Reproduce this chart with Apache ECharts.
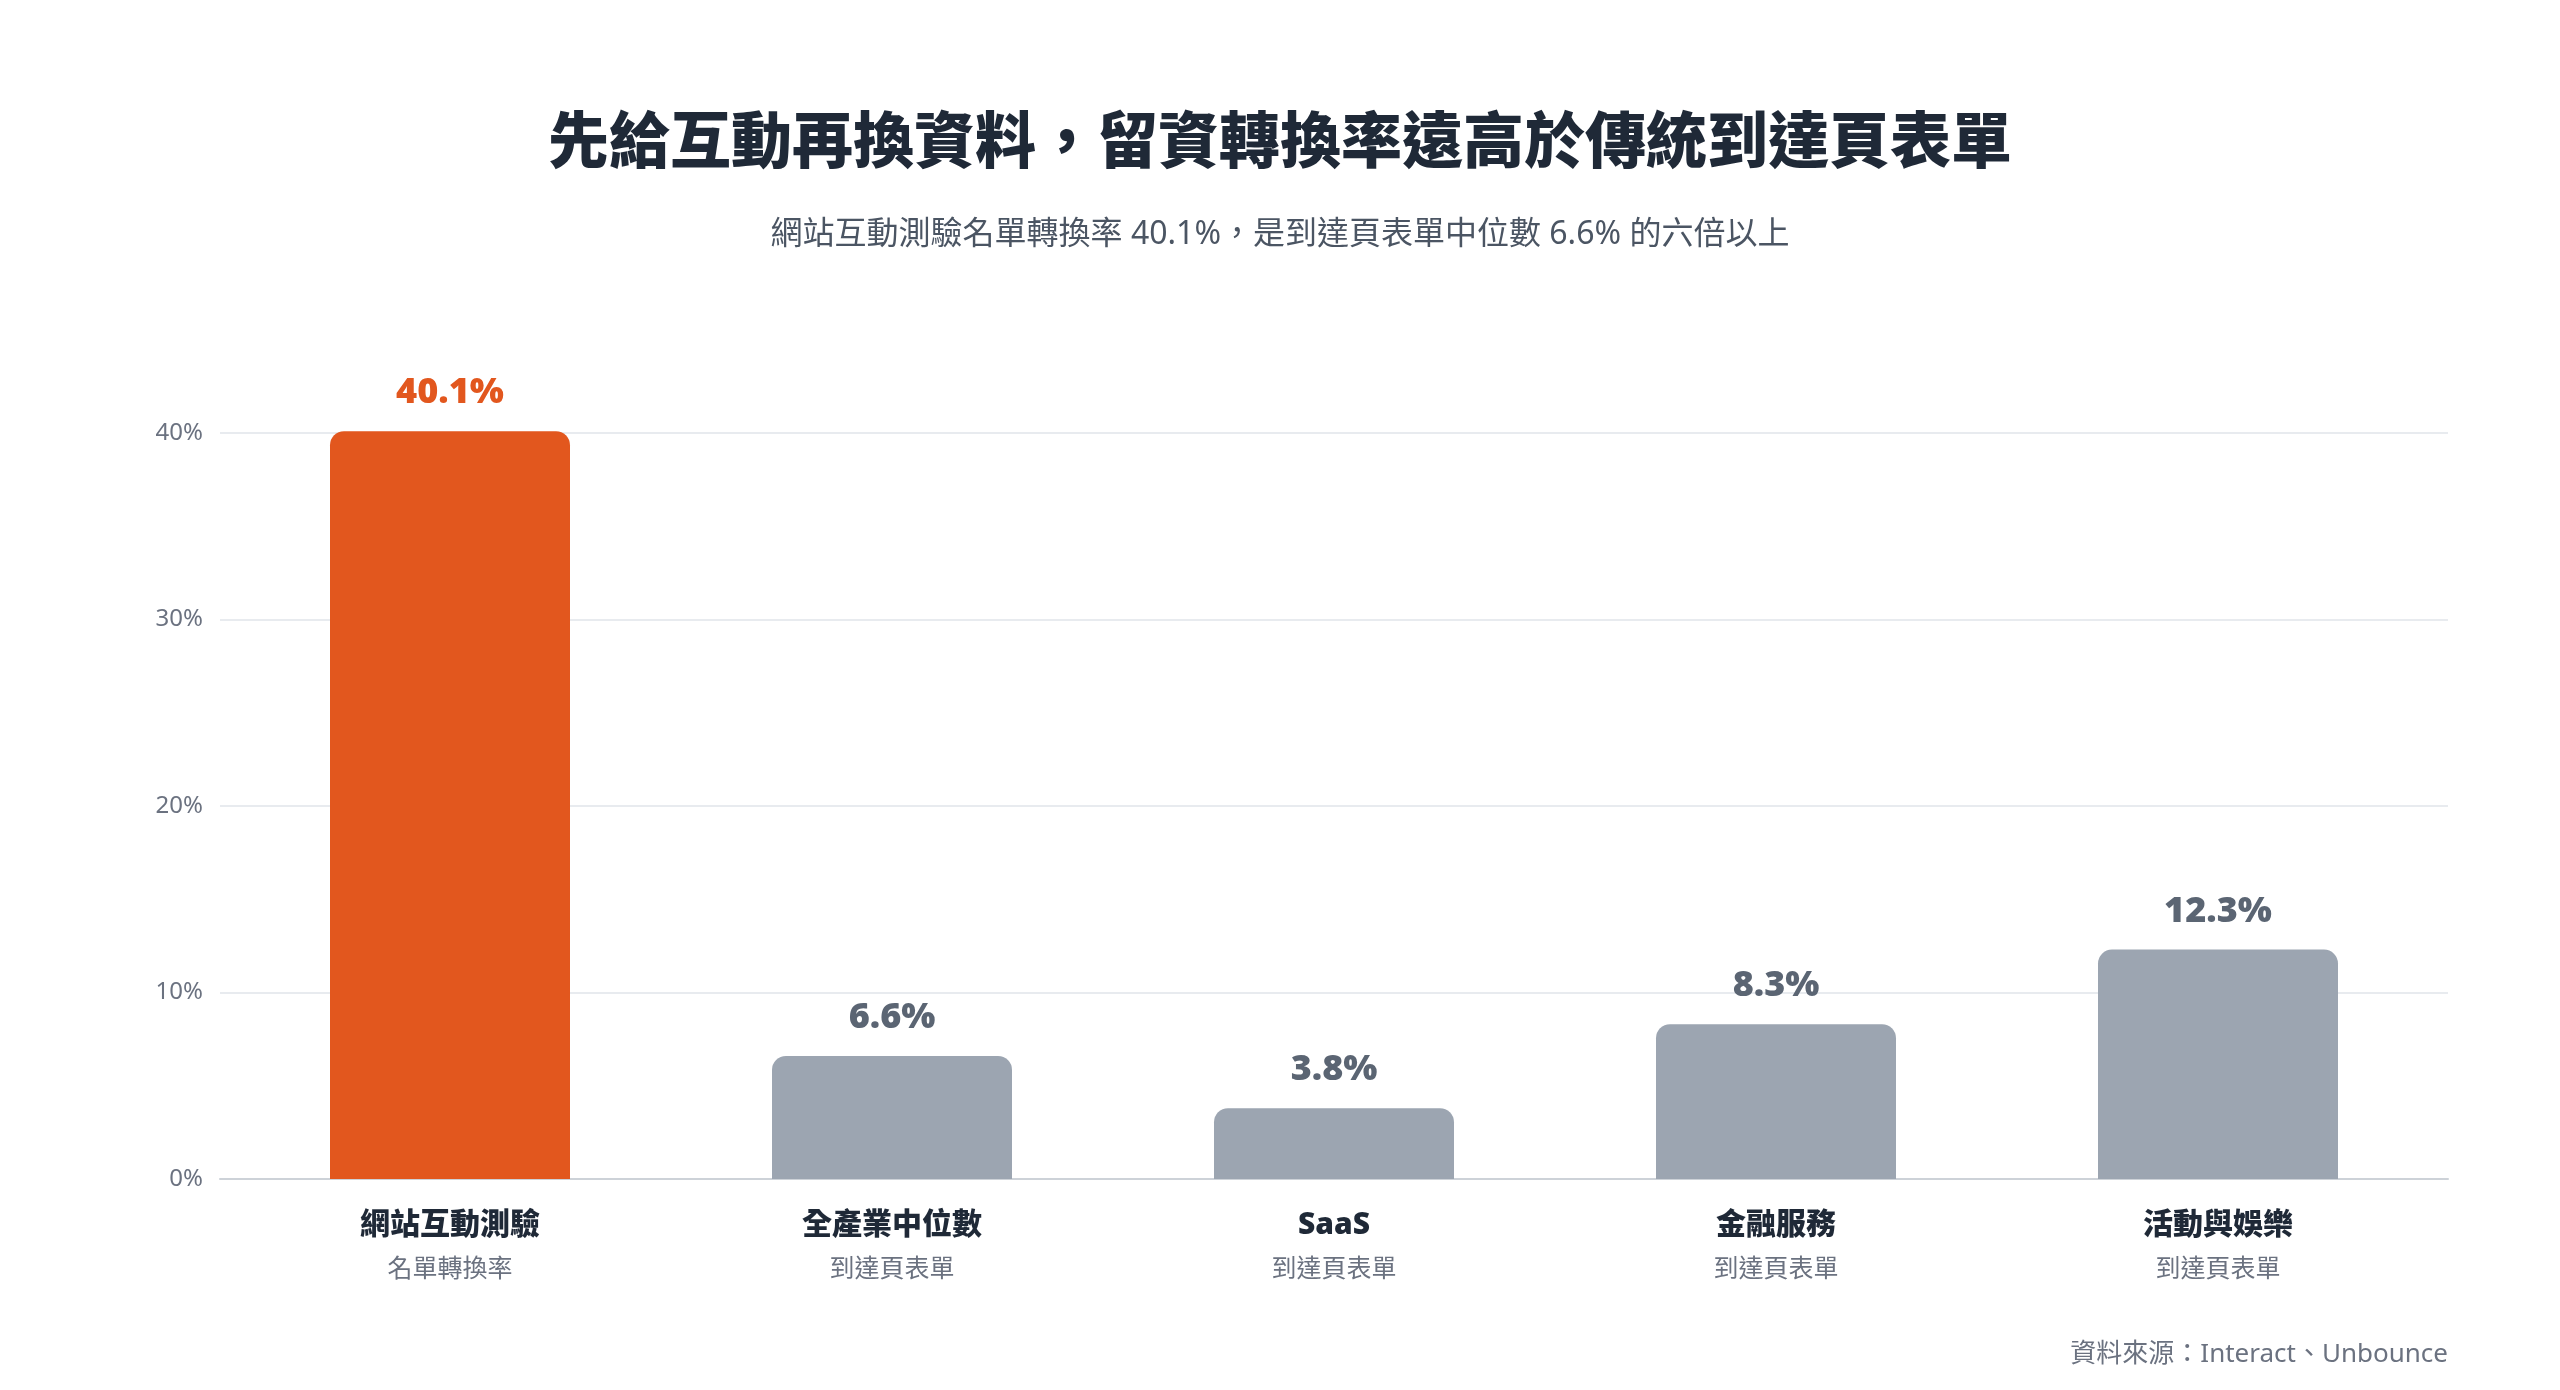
<!DOCTYPE html>
<html>
<head>
<meta charset="utf-8">
<script src="https://cdn.jsdelivr.net/npm/echarts@6/dist/echarts.min.js"></script>
<style>
html,body{margin:0;padding:0;background:#fff;}
#chart{width:2560px;height:1390px;}
</style>
</head>
<body>
<div id="chart"></div>
<script>
const titleText = '先給互動再換資料，留資轉換率遠高於傳統到達頁表單';
const subtitleText = '網站互動測驗名單轉換率 40.1%，是到達頁表單中位數 6.6% 的六倍以上';
const sourceText = '資料來源：Interact、Unbounce';
const categories = ['網站互動測驗', '全產業中位數', 'SaaS', '金融服務', '活動與娛樂'];
const subLabels = ['名單轉換率', '到達頁表單', '到達頁表單', '到達頁表單', '到達頁表單'];
const values = [40.1, 6.6, 3.8, 8.3, 12.3];
const yTicks = [0, 10, 20, 30, 40];

const FONT = '"Noto Sans", "Noto Sans CJK TC", sans-serif';
const ORANGE = '#E2571E';
const GRAY = '#9CA5B1';
const yMin = yTicks[0], yMax = yTicks[yTicks.length - 1];

const chart = echarts.init(document.getElementById('chart'));
const option = {
  backgroundColor: '#ffffff',
  textStyle: { fontFamily: FONT },
  title: [
    {
      text: titleText, left: 'center', top: 104,
      textStyle: { fontFamily: FONT, fontSize: 61, fontWeight: 900, color: '#1F2937', lineHeight: 74 }
    },
    {
      text: subtitleText, left: 'center', top: 208,
      textStyle: { fontFamily: FONT, fontSize: 32, fontWeight: 'normal', color: '#4B5563', lineHeight: 44 }
    },
    {
      text: sourceText, right: 107, top: 1332,
      textStyle: { fontFamily: FONT, fontSize: 26, fontWeight: 'normal', color: '#6B7280', lineHeight: 36 }
    }
  ],
  grid: [
    { left: 220, right: 112, top: 433, bottom: 211, containLabel: false },
    { left: 229, right: 121, top: 433, bottom: 211, containLabel: false }
  ],
  xAxis: [
    {
      type: 'category', gridIndex: 0,
      data: categories,
      axisTick: { show: false },
      axisLabel: { show: false },
      axisLine: { lineStyle: { color: '#CDD2D8', width: 2 } }
    },
    {
      type: 'category', gridIndex: 1,
      data: categories,
      axisTick: { show: false },
      axisLine: { show: false },
      axisLabel: {
        margin: 24,
        interval: 0,
        formatter: (v, i) => '{a|' + v + '}\n{b|' + subLabels[i] + '}',
        rich: {
          a: { fontFamily: FONT, fontSize: 30, fontWeight: 900, color: '#1F2937', lineHeight: 44 },
          b: { fontFamily: FONT, fontSize: 25, color: '#6B7280', lineHeight: 46 }
        }
      }
    }
  ],
  yAxis: [
    {
      type: 'value', gridIndex: 0,
      min: yMin, max: yMax, interval: 10,
      axisLine: { show: false },
      axisTick: { show: false },
      axisLabel: { formatter: '{value}%', fontFamily: FONT, fontSize: 24, color: '#6B7280', margin: 17, padding: [4, 0, 0, 0] },
      splitLine: { lineStyle: { color: '#E8EBEF', width: 2 } }
    },
    {
      type: 'value', gridIndex: 1,
      min: yMin, max: yMax, interval: 10,
      show: false,
      splitLine: { show: false }
    }
  ],
  series: [{
    type: 'bar',
    xAxisIndex: 1, yAxisIndex: 1,
    clip: false,
    barWidth: 240,
    z: 3,
    data: values.map((v, i) => ({
      value: v,
      itemStyle: { color: i === 0 ? ORANGE : GRAY, borderRadius: [14, 14, 0, 0] },
      label: { color: i === 0 ? ORANGE : '#5B6573' }
    })),
    label: {
      show: true,
      position: 'top',
      distance: 20,
      fontFamily: FONT,
      fontSize: 36,
      fontWeight: 900,
      formatter: p => p.value.toFixed(1) + '%'
    }
  }],
  animation: false
};
chart.setOption(option);
</script>
</body>
</html>
